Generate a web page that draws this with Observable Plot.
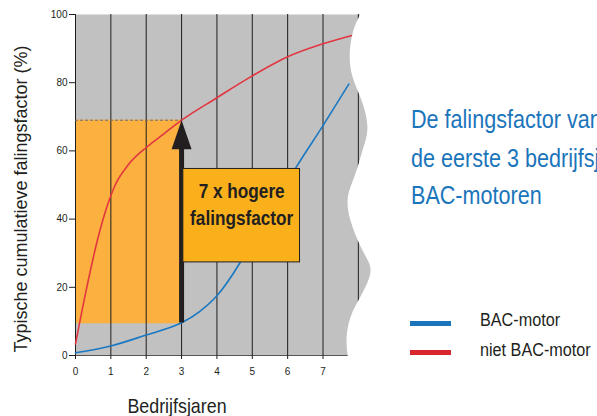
<!DOCTYPE html>
<html>
<head>
<meta charset="utf-8">
<script src="https://cdn.jsdelivr.net/npm/d3@7"></script>
<script src="https://cdn.jsdelivr.net/npm/@observablehq/plot@0.6"></script>
<style>
  html, body { margin: 0; padding: 0; background: #fff; }
  #wrap { position: relative; width: 597px; height: 416px; overflow: hidden; }
  #chart { position: absolute; left: 0; top: 0; }
  .t { position: absolute; white-space: nowrap; font-family: "Liberation Sans", Arial, sans-serif; line-height: 1; }
  .c { transform-origin: 0 0; }
</style>
</head>
<body>
<div id="wrap">
  <div id="chart"></div>
  <div class="t" id="ylab" style="left:21px; top:199px; font-size:18px; color:#231f20; transform: translate(-50%,-50%) rotate(-90deg);">Typische cumulatieve falingsfactor (%)</div>
  <div class="t" id="xlab" style="left:177px; top:395px; font-size:21px; color:#231f20; transform: translateX(-50%) scaleX(0.85);">Bedrijfsjaren</div>
  <div class="t c" style="left:411px; top:106px; font-size:26px; color:#1b75bb; transform: scaleX(0.83);">De falingsfactor van</div>
  <div class="t c" style="left:411px; top:145px; font-size:26px; color:#1b75bb; transform: scaleX(0.83);">de eerste 3 bedrijfsjaren</div>
  <div class="t c" style="left:411px; top:182px; font-size:26px; color:#1b75bb; transform: scaleX(0.83);">BAC-motoren</div>
  <div style="position:absolute; left:410px; top:321px; width:41px; height:5px; background:#1b75bb;"></div>
  <div style="position:absolute; left:410px; top:350px; width:41px; height:5px; background:#d8262e;"></div>
  <div class="t c" style="left:480px; top:311px; font-size:18px; color:#231f20; transform: scaleX(0.9);">BAC-motor</div>
  <div class="t c" style="left:480px; top:341px; font-size:18px; color:#231f20; transform: scaleX(0.9);">niet BAC-motor</div>
</div>
<script>
// ---- data ----
const gridYears = [0, 1, 2, 3, 4, 5, 6, 7, 8];
const tickYears = [0, 1, 2, 3, 4, 5, 6, 7];
const yTicks = [0, 20, 40, 60, 80, 100];

const redYears = [0, 0.3, 0.6, 0.9, 1.1, 1.5, 2, 2.5, 3, 4, 5, 6, 7, 7.87];
const redPct   = [3.4, 19, 33, 44, 49.5, 56, 61, 65, 69, 75.6, 82, 87.6, 91.4, 94];

const blueYears = [0, 1, 2, 2.8, 3, 3.5, 4, 4.67, 5, 5.5, 6, 6.23, 7, 7.73];
const bluePct   = [0.8, 2.8, 6, 8.7, 9.6, 12.8, 17.5, 27.5, 33.5, 42, 51, 55, 67.4, 79.6];

// highlighted band (years 0-3, between the two curves at year 3)
const bandYears = [0, 3];
const bandPct = [9.3, 69];

// arrow at year 3
const arrowYear = 3;
const arrowPct = [9.5, 69];

// annotation box
const boxYears = [3.05, 6.35];
const boxPct = [27.3, 54.7];
const boxLabel = "7 x hogere\nfalingsfactor";

// torn right edge of the chart (year position of the edge at each percentage)
const edgePct   = [-2, 0, 4.3, 11.1, 18.2, 24.9, 30.7, 39.5, 45.4, 49.2, 55, 60, 66.8, 75.6, 84.4, 94.3, 100, 102];
const edgeYears = [7.71, 7.71, 7.68, 7.79, 8.13, 8.36, 8.13, 7.79, 7.71, 7.79, 7.99, 8.13, 8.27, 8.07, 7.79, 7.85, 8.07, 8.07];

// ---- tables ----
const red = redYears.map((x, i) => ({x, y: redPct[i]}));
const blue = blueYears.map((x, i) => ({x, y: bluePct[i]}));
const band = [{x1: bandYears[0], x2: bandYears[1], y1: bandPct[0], y2: bandPct[1]}];
const arrow = [{x: arrowYear, y1: arrowPct[0], y2: arrowPct[1] - 7, tip: arrowPct[1]}];
const box = [{x1: boxYears[0], x2: boxYears[1], y1: boxPct[0], y2: boxPct[1], label: boxLabel}];
const edge = edgePct.map((y, i) => ({y, x: edgeYears[i]}));

const arrowHead = {
  draw(context, size) {
    const r = Math.sqrt(size / Math.PI);
    context.moveTo(0, 0);
    context.lineTo(r, 2.9 * r);
    context.lineTo(-r, 2.9 * r);
    context.closePath();
  }
};

const chart = Plot.plot({
  width: 372,
  height: 416,
  marginLeft: 75,
  marginRight: 0,
  marginTop: 14,
  marginBottom: 61,
  style: {fontFamily: "Liberation Sans, Arial, sans-serif", fontSize: "10px", color: "#231f20", background: "transparent"},
  x: {domain: [0, 8.4]},
  y: {domain: [0, 100]},
  marks: [
    Plot.frame({fill: "#c1c1c1", stroke: "none"}),
    Plot.rect(band, {x1: "x1", x2: "x2", y1: "y1", y2: "y2", fill: "#fbb040"}),
    Plot.ruleX(gridYears, {y1: 0, y2: 100, stroke: "#1e1e1e", strokeWidth: 1}),
    Plot.ruleY([0], {x1: 0, x2: 8.4, stroke: "#555", strokeWidth: 1.2}),
    Plot.ruleY([bandPct[1]], {x1: bandYears[0], x2: bandYears[1], stroke: "#6d6d6d", strokeDasharray: "3,2"}),
    Plot.line(red, {x: "x", y: "y", stroke: "#e23640", strokeWidth: 1.6, curve: "monotone-x"}),
    Plot.line(blue, {x: "x", y: "y", stroke: "#1a78c2", strokeWidth: 1.6, curve: "monotone-x"}),
    Plot.ruleX(arrow, {x: "x", y1: "y1", y2: "y2", stroke: "#231f20", strokeWidth: 5}),
    Plot.dot(arrow, {x: "x", y: "tip", symbol: arrowHead, r: 10, fill: "#231f20", stroke: "none"}),
    Plot.rect(box, {x1: "x1", x2: "x2", y1: "y1", y2: "y2", fill: "#f9b01b", stroke: "#231f20", strokeWidth: 1}),
    Plot.text(box, {x: d => (d.x1 + d.x2) / 2, y: d => (d.y1 + d.y2) / 2, text: "label", dy: -13, lineHeight: 1.38,
      fontFamily: "Liberation Sans, Arial, sans-serif", fontSize: 20, fontWeight: "bold", fill: "#231f20", className: "boxlabel"}),
    Plot.areaX(edge, {y: "y", x1: "x", x2: 8.4, fill: "white", curve: "natural"}),
    Plot.axisY(yTicks, {tickSize: 6, tickPadding: 2, label: null, stroke: "#231f20"}),
    Plot.axisX(tickYears, {tickSize: 4, tickPadding: 8, label: null, stroke: "#231f20"})
  ]
});
// condense the box label horizontally
chart.querySelectorAll(".boxlabel text").forEach(t => {
  t.setAttribute("transform", (t.getAttribute("transform") || "") + " scale(0.86,1)");
});
document.getElementById("chart").appendChild(chart);
</script>
</body>
</html>
